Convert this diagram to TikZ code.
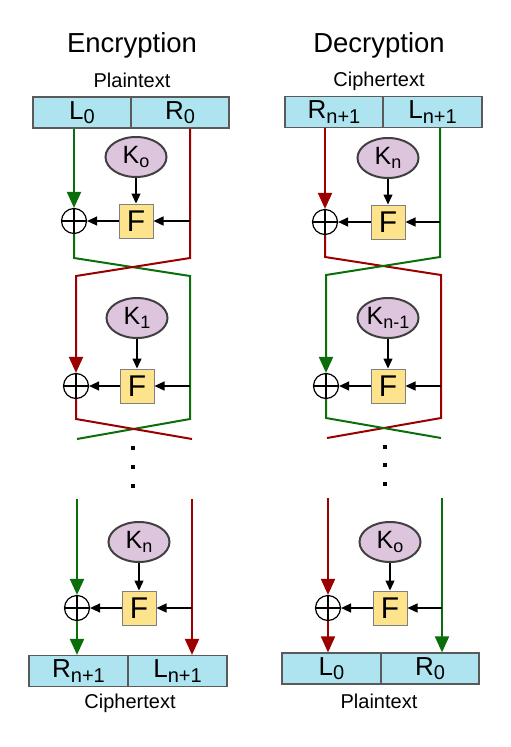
\documentclass[tikz,border=0pt]{standalone}
\usepackage{fontspec}
\setmainfont{Liberation Sans}
\usetikzlibrary{arrows.meta,shapes.geometric}
\definecolor{cyanbox}{RGB}{174,228,240}
\definecolor{fyel}{RGB}{253,227,140}
\definecolor{kpur}{RGB}{222,197,222}
\definecolor{kbord}{RGB}{64,64,64}
\definecolor{boxbord}{RGB}{90,90,90}
\definecolor{gcol}{RGB}{10,110,10}
\definecolor{rcol}{RGB}{155,0,0}
\newcommand{\lsub}[1]{\raisebox{-4.5pt}{\fontsize{20}{20}\selectfont #1}}
\newcommand{\ksub}[1]{\raisebox{-4.5pt}{\fontsize{18}{18}\selectfont #1}}
\begin{document}
\begin{tikzpicture}[x=1pt,y=-1pt,
  title/.style={inner sep=0pt,font=\fontsize{27.5}{27.5}\selectfont},
  lbl/.style={inner sep=0pt,font=\fontsize{20}{20}\selectfont},
  half/.style={rectangle,draw=boxbord,line width=1.2pt,fill=cyanbox,minimum height=31pt,inner sep=0pt,font=\fontsize{26}{26}\selectfont},
  fbox/.style={rectangle,draw=gray,line width=1pt,fill=fyel,minimum size=34pt,inner sep=0pt,font=\fontsize{30}{30}\selectfont},
  keyn/.style={ellipse,draw=kbord,line width=2pt,fill=kpur,minimum width=61pt,minimum height=40pt,inner sep=0pt,font=\fontsize{25}{25}\selectfont},
  xorn/.style={circle,draw,line width=1.2pt,minimum size=25pt,inner sep=0pt,
    path picture={\draw[line width=1.2pt] (path picture bounding box.north) -- (path picture bounding box.south) (path picture bounding box.west) -- (path picture bounding box.east);}},
  dotn/.style={rectangle,fill=black,minimum size=4pt,inner sep=0pt},
  gline/.style={draw=gcol,line width=2pt},
  rline/.style={draw=rcol,line width=2pt},
  gtip/.style={-{Triangle[length=16pt,width=14pt]},gline},
  rtip/.style={-{Triangle[length=16pt,width=14pt]},rline},
  bline/.style={draw=black,line width=1.3pt,-{Triangle[length=10pt,width=9pt]}}
]
\useasboundingbox (0,0) rectangle (511,747);

% ================= Encryption =================
\node[title] (encT) at (132,45) {Encryption};
\node[lbl] (encPT) at (132,80) {Plaintext};
\node[half,minimum width=98pt] (eL0) at (82,112.5) {L\lsub{0}};
\node[half,minimum width=98pt] (eR0) at (180,112.5) {R\lsub{0}};

% round 1
\node[xorn] (eX1) at (74,221) {};
\node[fbox] (eF1) at (136,221) {F};
\node[keyn] (eK1) at (136,157) {K\ksub{o}};
% round 2
\node[xorn] (eX2) at (76,386) {};
\node[fbox] (eF2) at (137,386) {F};
\node[keyn] (eK2) at (137,318) {K\ksub{1}};
% dots
\node[dotn] (eD1) at (133,448) {};
\node[dotn] (eD2) at (133,467) {};
\node[dotn] (eD3) at (133,486) {};
% round 3
\node[xorn] (eX3) at (77,608) {};
\node[fbox] (eF3) at (139,608) {F};
\node[keyn] (eK3) at (139,542) {K\ksub{n}};
\node[half,minimum width=99pt] (eB1) at (78.5,671) {R\lsub{n+1}};
\node[half,minimum width=99pt] (eB2) at (177.5,671) {L\lsub{n+1}};
\node[lbl] (encCT) at (130,703) {Ciphertext};

\coordinate (eG1) at (74,258);
\coordinate (eG2) at (190,276);
\coordinate (eG3) at (190,419);
\coordinate (eG4) at (77,439);
\coordinate (eR1) at (190,258);
\coordinate (eR2) at (76,276);
\coordinate (eR3) at (76,419);
\coordinate (eR4) at (192,439);
\coordinate (eG5) at (77,499);
\coordinate (eR5) at (192,499);

\draw[gtip] (eX1 |- eL0.south) -- (eX1.north);
\draw[gline] (eX1.south) -- (eG1) -- (eG2) -- (eG3) -- (eG4);
\draw[rtip] (eR1 |- eR0.south) -- (eR1) -- (eR2) -- (eX2.north);
\draw[rline] (eX2.south) -- (eR3) -- (eR4);
\draw[bline] (eK1.south) -- (eF1.north);
\draw[bline] (eR1 |- eF1) -- (eF1.east);
\draw[bline] (eF1.west) -- (eX1.east);
\draw[bline] (eK2.south) -- (eF2.north);
\draw[bline] (eG2 |- eF2) -- (eF2.east);
\draw[bline] (eF2.west) -- (eX2.east);
\draw[gtip] (eG5) -- (eX3.north);
\draw[gtip] (eX3.south) -- (eX3 |- eB1.north);
\draw[rtip] (eR5) -- (eR5 |- eB2.north);
\draw[bline] (eK3.south) -- (eF3.north);
\draw[bline] (eR5 |- eF3) -- (eF3.east);
\draw[bline] (eF3.west) -- (eX3.east);

% ================= Decryption =================
\node[title] (decT) at (379,45) {Decryption};
\node[lbl] (decCT) at (379,81) {Ciphertext};
\node[half,minimum width=98pt] (dR0) at (334,112) {R\lsub{n+1}};
\node[half,minimum width=99pt] (dL0) at (432.5,112) {L\lsub{n+1}};

\node[xorn] (dX1) at (325,222) {};
\node[fbox] (dF1) at (388,222) {F};
\node[keyn] (dK1) at (388,158) {K\ksub{n}};
\node[xorn] (dX2) at (326,386) {};
\node[fbox] (dF2) at (388,386) {F};
\node[keyn] (dK2) at (388,318) {K\ksub{n-1}};
\node[dotn] (dD1) at (385,447) {};
\node[dotn] (dD2) at (385,465) {};
\node[dotn] (dD3) at (385,484) {};
\node[xorn] (dX3) at (328,608) {};
\node[fbox] (dF3) at (390,608) {F};
\node[keyn] (dK3) at (390,542) {K\ksub{o}};
\node[half,minimum width=99pt] (dB1) at (331.5,668.5) {L\lsub{0}};
\node[half,minimum width=98pt] (dB2) at (430,668.5) {R\lsub{0}};
\node[lbl] (decPT) at (379,701) {Plaintext};

\coordinate (dR1) at (325,257);
\coordinate (dR2) at (441,275);
\coordinate (dR3) at (441,418);
\coordinate (dR4) at (327,438);
\coordinate (dG1) at (440,257);
\coordinate (dG2) at (326,275);
\coordinate (dG3) at (326,418);
\coordinate (dG4) at (441,438);
\coordinate (dR5) at (328,498);
\coordinate (dG5) at (442,498);

\draw[rtip] (dX1 |- dR0.south) -- (dX1.north);
\draw[rline] (dX1.south) -- (dR1) -- (dR2) -- (dR3) -- (dR4);
\draw[gtip] (dG1 |- dL0.south) -- (dG1) -- (dG2) -- (dX2.north);
\draw[gline] (dX2.south) -- (dG3) -- (dG4);
\draw[bline] (dK1.south) -- (dF1.north);
\draw[bline] (dG1 |- dF1) -- (dF1.east);
\draw[bline] (dF1.west) -- (dX1.east);
\draw[bline] (dK2.south) -- (dF2.north);
\draw[bline] (dR2 |- dF2) -- (dF2.east);
\draw[bline] (dF2.west) -- (dX2.east);
\draw[rtip] (dR5) -- (dX3.north);
\draw[rtip] (dX3.south) -- (dX3 |- dB1.north);
\draw[gtip] (dG5) -- (dG5 |- dB2.north);
\draw[bline] (dK3.south) -- (dF3.north);
\draw[bline] (dG5 |- dF3) -- (dF3.east);
\draw[bline] (dF3.west) -- (dX3.east);
\end{tikzpicture}
\end{document}
